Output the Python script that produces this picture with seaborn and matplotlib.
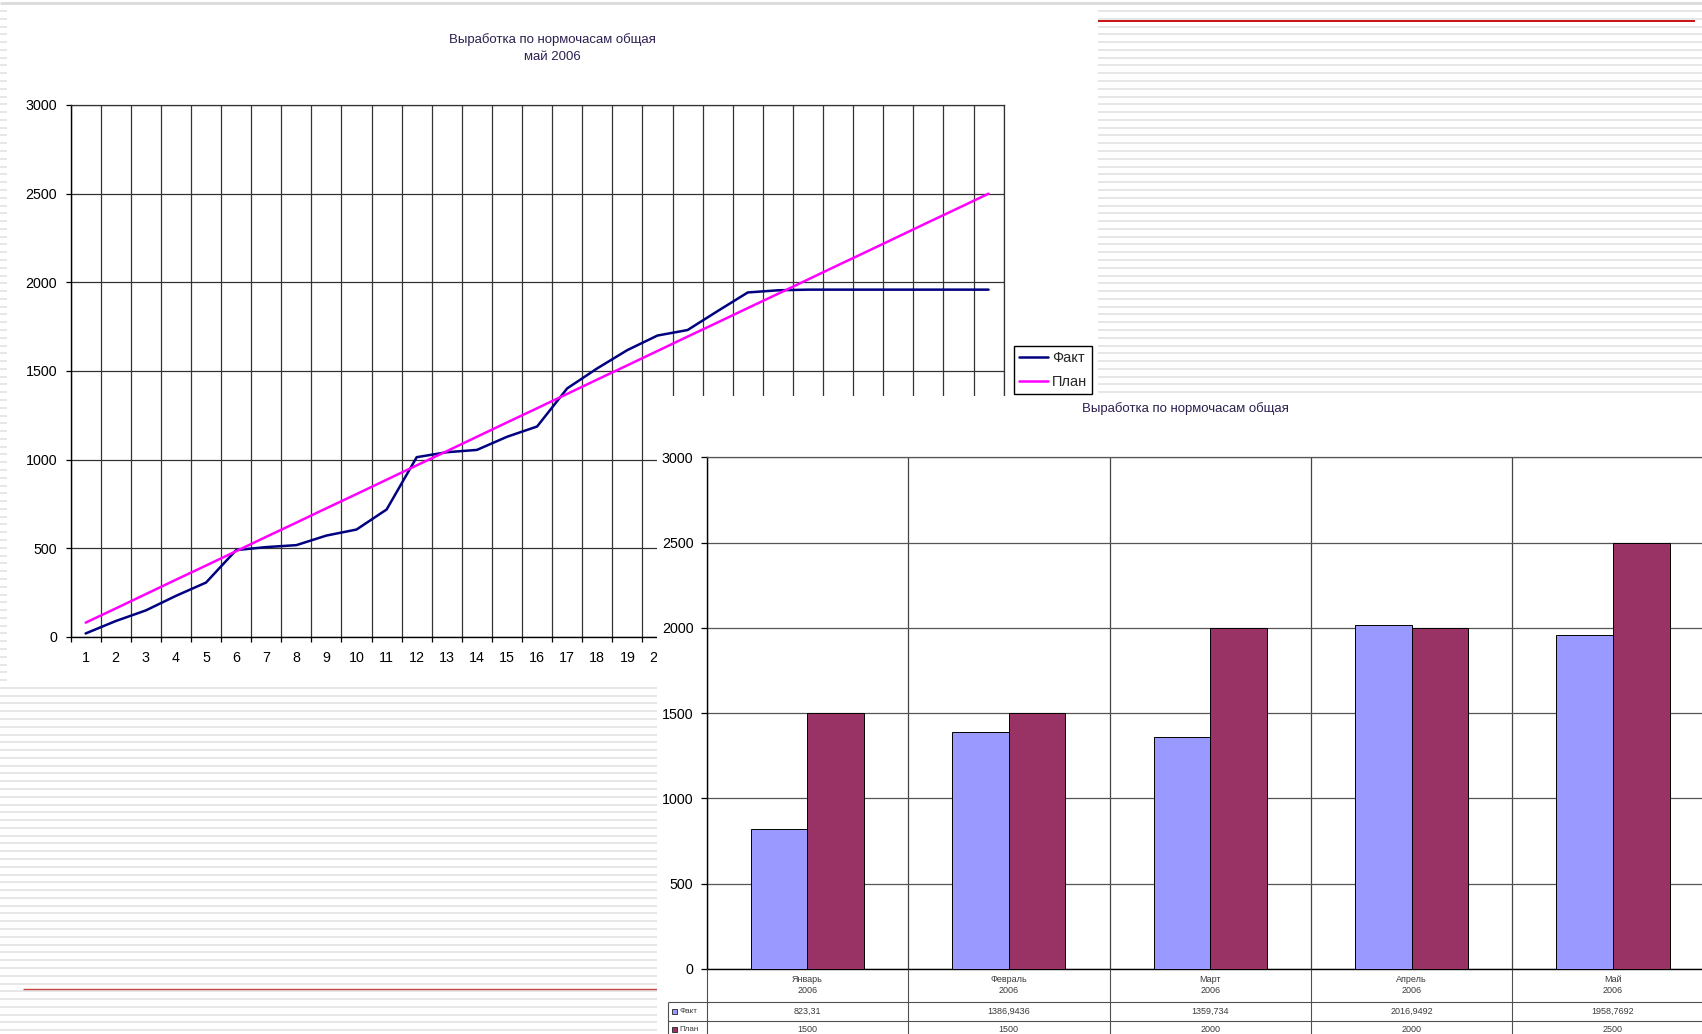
import numpy as np
import pandas as pd
import matplotlib
matplotlib.use('Agg')
import matplotlib.pyplot as plt
import seaborn as sns
from matplotlib.patches import Rectangle
from matplotlib.lines import Line2D

# ---------------- data ----------------
days = list(range(1, 32))
fact_daily = [20, 90, 150, 232, 307, 490, 507, 518, 572, 606, 719, 1014, 1042, 1055,
              1129, 1187, 1402, 1515, 1618, 1700, 1731, 1838, 1943, 1955, 1958.77,
              1958.77, 1958.77, 1958.77, 1958.77, 1958.77, 1958.77]
plan_daily = [81, 161, 242, 323, 403, 484, 565, 645, 726, 806, 887, 968, 1048, 1129,
              1210, 1290, 1371, 1452, 1532, 1613, 1694, 1774, 1855, 1935, 2016, 2097,
              2177, 2258, 2339, 2419, 2500]
series_names = ['Факт', 'План']
line_title = 'Выработка по нормочасам общая\nмай 2006'

months = ['Январь', 'Февраль', 'Март', 'Апрель', 'Май']
year_label = '2006'
fact_monthly = [823.31, 1386.9436, 1359.734, 2016.9492, 1958.7692]
plan_monthly = [1500, 1500, 2000, 2000, 2500]
bar_title = 'Выработка по нормочасам общая'
y_ticks = [0, 500, 1000, 1500, 2000, 2500, 3000]

# ---------------- setup ----------------
W, H = 1702, 1034
sns.set_theme(style='white')
plt.rcParams['font.family'] = ['Liberation Sans', 'DejaVu Sans']
fig = plt.figure(figsize=(W / 100, H / 100), dpi=100)


def fr(x0, y0, x1, y1):
    return [x0 / W, 1 - y1 / H, (x1 - x0) / W, (y1 - y0) / H]


def blank(ax, color='white'):
    ax.set_facecolor(color)
    ax.set_xticks([])
    ax.set_yticks([])
    for s in ax.spines.values():
        s.set_visible(False)


# slide background with stripes
bg = fig.add_axes([0, 0, 1, 1])
bg.set_xlim(0, W)
bg.set_ylim(H, 0)
bg.axis('off')
bg.hlines(np.arange(11, H, 7.78), 0, W, colors='#e2e2e2', linewidth=1.15)
bg.hlines([2.5], 0, W, colors='#dcdcdc', linewidth=2.2)
bg.hlines([21.3], 1098, 1695, colors='#c00000', linewidth=1.3)
bg.hlines([989], 23, 657, colors='#c84848', linewidth=1.0)

# ---------------- line chart ----------------
lp = fig.add_axes(fr(7, 5, 1098, 687))
blank(lp)

ax1 = fig.add_axes(fr(70.6, 105, 1003.6, 637))
line_colors = {'Факт': '#000080', 'План': '#FF00FF'}
df_line = pd.DataFrame({
    'День': days * 2,
    'Значение': fact_daily + plan_daily,
    'Ряд': [series_names[0]] * len(days) + [series_names[1]] * len(days),
})
sns.lineplot(data=df_line, x='День', y='Значение', hue='Ряд', palette=line_colors,
             linewidth=1.8, ax=ax1, legend=False, zorder=3)
ax1.set_facecolor('white')
ax1.set_xlim(0.5, 31.5)
ax1.set_ylim(0, 3000)
ax1.set_xlabel('')
ax1.set_ylabel('')
ax1.set_xticks(days)
ax1.set_xticklabels([str(d) for d in days])
ax1.set_xticks(np.arange(0.5, 32, 1), minor=True)
ax1.set_yticks(y_ticks)
ax1.set_yticklabels([str(v) for v in y_ticks])
ax1.tick_params(axis='x', which='major', length=0, pad=10, labelsize=10.3, colors='black')
ax1.tick_params(axis='x', which='minor', length=3.6, width=0.9, direction='out',
                color='black', bottom=True)
ax1.tick_params(axis='y', which='major', length=3.6, width=0.9, direction='out',
                pad=6, labelsize=10.3, colors='black', left=True)
ax1.grid(False)
ax1.grid(which='minor', axis='x', color='#333333', linewidth=0.9)
ax1.grid(which='major', axis='y', color='#333333', linewidth=0.9)
for side in ['left', 'bottom']:
    ax1.spines[side].set_color('black')
    ax1.spines[side].set_linewidth(1.0)
for side in ['top', 'right']:
    ax1.spines[side].set_color('#333333')
    ax1.spines[side].set_linewidth(0.9)

fig.text(552 / W, 1 - 48 / H, line_title, ha='center', va='center', fontsize=9.5,
         color='#2d2050', linespacing=1.5)

handles = [Line2D([0], [0], color=line_colors[n], linewidth=1.8) for n in series_names]
leg = ax1.legend(handles, series_names, loc='upper left',
                 bbox_to_anchor=(1014 / W, 1 - 346 / H), bbox_transform=fig.transFigure,
                 frameon=True, fancybox=False, edgecolor='black', framealpha=1,
                 fontsize=10.5, handlelength=2.0, handletextpad=0.25, borderpad=0.35,
                 labelspacing=0.7, borderaxespad=0)
leg.get_frame().set_linewidth(1.0)

# ---------------- bar chart ----------------
bp = fig.add_axes(fr(657, 396, W, H))
blank(bp)

ax2 = fig.add_axes(fr(706.7, 457.3, 1713.7, 969))
bar_colors = {'Факт': '#9999FF', 'План': '#993366'}
df_bar = pd.DataFrame({
    'Месяц': months * 2,
    'Значение': fact_monthly + plan_monthly,
    'Ряд': [series_names[0]] * len(months) + [series_names[1]] * len(months),
})
sns.barplot(data=df_bar, x='Месяц', y='Значение', hue='Ряд', palette=bar_colors,
            saturation=1, width=0.563, gap=0, edgecolor='black', linewidth=0.7,
            errorbar=None, legend=False, ax=ax2, zorder=3)
ax2.set_facecolor('white')
ax2.set_xlim(-0.5, len(months) - 0.5)
ax2.set_ylim(0, 3000)
ax2.set_xlabel('')
ax2.set_ylabel('')
ax2.set_xticks([])
ax2.set_xticks(np.arange(-0.5, len(months), 1), minor=True)
ax2.set_yticks(y_ticks)
ax2.set_yticklabels([str(v) for v in y_ticks])
ax2.tick_params(axis='x', which='both', length=0, labelbottom=False)
ax2.tick_params(axis='y', which='major', length=4, width=0.9, direction='out',
                pad=5.5, labelsize=10.3, colors='black', left=True)
ax2.grid(False)
ax2.grid(which='minor', axis='x', color='#444444', linewidth=0.9)
ax2.grid(which='major', axis='y', color='#555555', linewidth=0.9)
for side in ['left', 'bottom']:
    ax2.spines[side].set_color('black')
    ax2.spines[side].set_linewidth(1.0)
ax2.spines['top'].set_color('#555555')
ax2.spines['top'].set_linewidth(0.9)
ax2.spines['right'].set_visible(False)

fig.text(1185 / W, 1 - 409 / H, bar_title, ha='center', va='center', fontsize=9.5,
         color='#2d2050')

# ---------------- data table under the bar chart ----------------
ov = fig.add_axes([0, 0, 1, 1])
ov.set_xlim(0, W)
ov.set_ylim(H, 0)
ov.axis('off')
fig.canvas.draw()


def xpix(v):
    return ax2.transData.transform((v, 0))[0]


tbl_color = '#505050'
txt_color = '#3a3a3a'
ov.hlines([1001.7, 1020.7], 668, W, colors=tbl_color, linewidth=0.8)
ov.vlines([668], 1001.7, H, colors=tbl_color, linewidth=0.8)
for b in np.arange(-0.5, len(months), 1):
    ov.vlines([xpix(b)], 969, H, colors=tbl_color, linewidth=0.8)

for i, m in enumerate(months):
    xc = xpix(i)
    ov.text(xc, 985, f'{m}\n{year_label}', ha='center', va='center', fontsize=6.5,
            color=txt_color, linespacing=1.25)
    ov.text(xc, 1011.7, str(fact_monthly[i]).replace('.', ','), ha='center',
            va='center', fontsize=6.5, color=txt_color)
    ov.text(xc, 1029.5, str(plan_monthly[i]).replace('.', ','), ha='center',
            va='center', fontsize=6.5, color=txt_color)

for name, yc in zip(series_names, [1011.2, 1029.0]):
    ov.add_patch(Rectangle((671.5, yc - 2.5), 5, 5, facecolor=bar_colors[name],
                           edgecolor='#222222', linewidth=0.6))
    ov.text(679, yc + 0.5, name, ha='left', va='center', fontsize=5.8, color=txt_color)

fig.savefig('out.png', dpi=100)
